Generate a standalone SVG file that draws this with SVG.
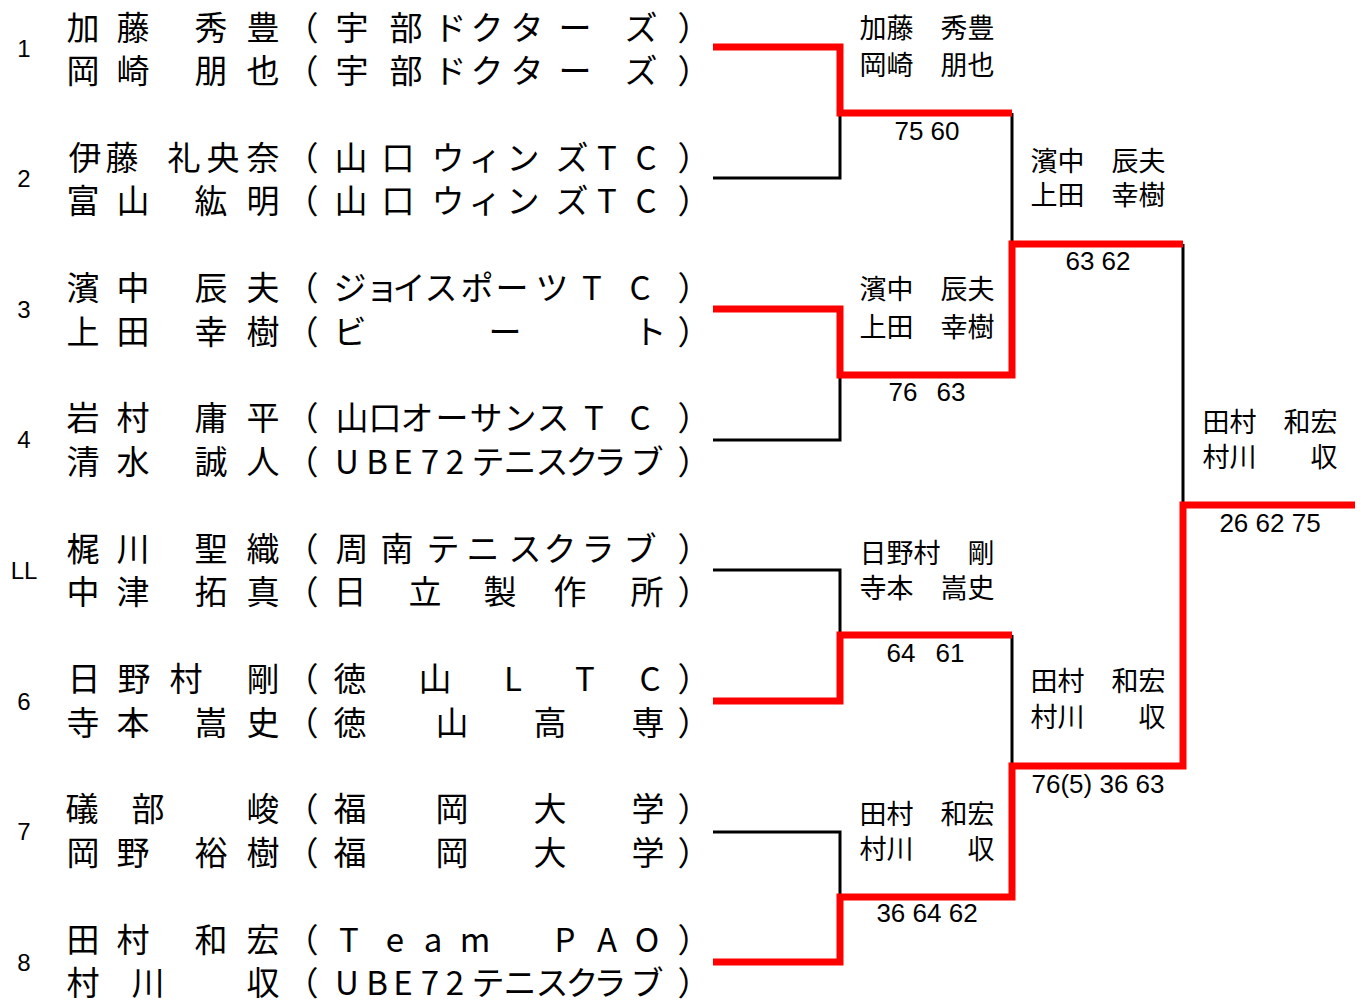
<svg xmlns="http://www.w3.org/2000/svg" width="1361" height="1003" viewBox="0 0 1361 1003">
<style>
.nm{font-family:"Noto Sans CJK JP","Noto Sans CJK SC",sans-serif;font-size:33px;text-anchor:middle;fill:#000}
.sd{font-family:"Liberation Sans",Arial,sans-serif;font-size:24px;text-anchor:middle;fill:#000}
.wn{font-family:"Noto Sans CJK JP","Noto Sans CJK SC",sans-serif;font-size:27px;text-anchor:middle;fill:#000}
.sc{font-family:"Liberation Sans",Arial,sans-serif;font-size:26px;text-anchor:middle;fill:#000}
.blk{stroke:#000;stroke-width:3;fill:none}
.red{stroke:#ff0000;stroke-width:7;fill:none;stroke-linejoin:miter}
</style>
<rect width="1361" height="1003" fill="#fff"/>

<g id="connectors">
  <path class="blk" d="M713,178 H840 V113"/>
  <path class="blk" d="M1012,113 V244"/>
  <path class="blk" d="M713,440 H840 V375"/>
  <path class="blk" d="M713,570 H840 V635"/>
  <path class="blk" d="M1012,635 V766"/>
  <path class="blk" d="M713,832 H840 V897"/>
  <path class="blk" d="M1183,244 V505"/>
  <path class="red" d="M713,47 H840 V113 H1012"/>
  <path class="red" d="M713,309 H840 V375 H1012 V244 H1183"/>
  <path class="red" d="M713,701 H840 V635 H1012"/>
  <path class="red" d="M713,962 H840 V897 H1012 V766 H1183 V505 H1355"/>
</g>

<g id="entry1">
  <text class="sd" x="24" y="56.6">1</text>
  <text class="nm" x="83 133 172 211 263" y="39.5">加藤　秀豊</text>
  <text class="nm" x="302 352 406 450 487 527 575 641 694" y="39.5">（宇部ドクターズ）</text>
  <text class="nm" x="83 133 172 211 263" y="83">岡崎　朋也</text>
  <text class="nm" x="302 352 406 450 487 527 575 641 694" y="83">（宇部ドクターズ）</text>
</g>
<g id="entry2">
  <text class="sd" x="24" y="187.2">2</text>
  <text class="nm" x="85 122 153 184 223 263" y="169.8">伊藤　礼央奈</text>
  <text class="nm" x="302 351 398 448 485 523 572 607 646 694" y="169.8">（山口ウィンズTC）</text>
  <text class="nm" x="83 133 172 211 263" y="213.3">富山　紘明</text>
  <text class="nm" x="302 351 398 448 485 523 572 607 646 694" y="213.3">（山口ウィンズTC）</text>
</g>
<g id="entry3">
  <text class="sd" x="24" y="317.8">3</text>
  <text class="nm" x="83 133 172 211 263" y="300.1">濱中　辰夫</text>
  <text class="nm" x="302 350 382 409 441 477 512 552 592 640 694" y="300.1">（ジョイスポーツTC）</text>
  <text class="nm" x="83 133 172 211 263" y="343.6">上田　幸樹</text>
  <text class="nm" x="302 350 505 650 694" y="343.6">（ビート）</text>
</g>
<g id="entry4">
  <text class="sd" x="24" y="448.4">4</text>
  <text class="nm" x="83 133 172 211 263" y="430.4">岩村　庸平</text>
  <text class="nm" x="302 352 385 417 452 486 520 553 594 640 694" y="430.4">（山口オーサンスTC）</text>
  <text class="nm" x="83 133 172 211 263" y="473.9">清水　誠人</text>
  <text class="nm" x="302 347 377 403 430 455 488 520 552 582 610 647 694" y="473.9">（UBE72テニスクラブ）</text>
</g>
<g id="entry5">
  <text class="sd" x="24" y="579">LL</text>
  <text class="nm" x="83 133 172 211 263" y="560.7">梶川　聖織</text>
  <text class="nm" x="302 352 397 443 483 525 560 598 640 694" y="560.7">（周南テニスクラブ）</text>
  <text class="nm" x="83 133 172 211 263" y="604.2">中津　拓真</text>
  <text class="nm" x="302 350 425 500 570 647 694" y="604.2">（日立製作所）</text>
</g>
<g id="entry6">
  <text class="sd" x="24" y="709.6">6</text>
  <text class="nm" x="84 134 186 225 263" y="691">日野村　剛</text>
  <text class="nm" x="302 350 435 513 585 650 694" y="691">（徳山LTC）</text>
  <text class="nm" x="83 133 172 211 263" y="734.5">寺本　嵩史</text>
  <text class="nm" x="302 350 452 550 648 694" y="734.5">（徳山高専）</text>
</g>
<g id="entry7">
  <text class="sd" x="24" y="840.2">7</text>
  <text class="nm" x="82 148 205 263" y="821.3">礒部　峻</text>
  <text class="nm" x="302 350 452 550 648 694" y="821.3">（福岡大学）</text>
  <text class="nm" x="83 133 172 211 263" y="864.8">岡野　裕樹</text>
  <text class="nm" x="302 350 452 550 648 694" y="864.8">（福岡大学）</text>
</g>
<g id="entry8">
  <text class="sd" x="24" y="970.8">8</text>
  <text class="nm" x="83 133 172 211 263" y="951.6">田村　和宏</text>
  <text class="nm" x="302 349 395 433 475 520 565 607 647 694" y="951.6">（Team PAO）</text>
  <text class="nm" x="83 148 205 263" y="995.1">村川　収</text>
  <text class="nm" x="302 347 377 403 430 455 488 520 552 582 610 647 694" y="995.1">（UBE72テニスクラブ）</text>
</g>

<g id="r1-m1">
  <text class="wn" x="927" y="38">加藤　秀豊</text>
  <text class="wn" x="927" y="75">岡崎　朋也</text>
  <text class="sc" x="927" y="140">75 60</text>
</g>
<g id="r1-m2">
  <text class="wn" x="927" y="299">濱中　辰夫</text>
  <text class="wn" x="927" y="337">上田　幸樹</text>
  <text class="sc" y="401"><tspan x="903">76</tspan><tspan x="951">63</tspan></text>
</g>
<g id="r1-m3">
  <text class="wn" x="927" y="563">日野村　剛</text>
  <text class="wn" x="927" y="598">寺本　嵩史</text>
  <text class="sc" y="662"><tspan x="901">64</tspan><tspan x="950">61</tspan></text>
</g>
<g id="r1-m4">
  <text class="wn" x="927" y="824">田村　和宏</text>
  <text class="wn" x="927" y="859">村川　　収</text>
  <text class="sc" x="927" y="922">36 64 62</text>
</g>
<g id="r2-top">
  <text class="wn" x="1098" y="171">濱中　辰夫</text>
  <text class="wn" x="1098" y="205">上田　幸樹</text>
  <text class="sc" x="1098" y="270">63 62</text>
</g>
<g id="r2-bottom">
  <text class="wn" x="1098" y="691">田村　和宏</text>
  <text class="wn" x="1098" y="727">村川　　収</text>
  <text class="sc" x="1098" y="793">76(5) 36 63</text>
</g>
<g id="final">
  <text class="wn" x="1270" y="432">田村　和宏</text>
  <text class="wn" x="1270" y="467">村川　　収</text>
  <text class="sc" x="1270" y="532">26 62 75</text>
</g>
</svg>
